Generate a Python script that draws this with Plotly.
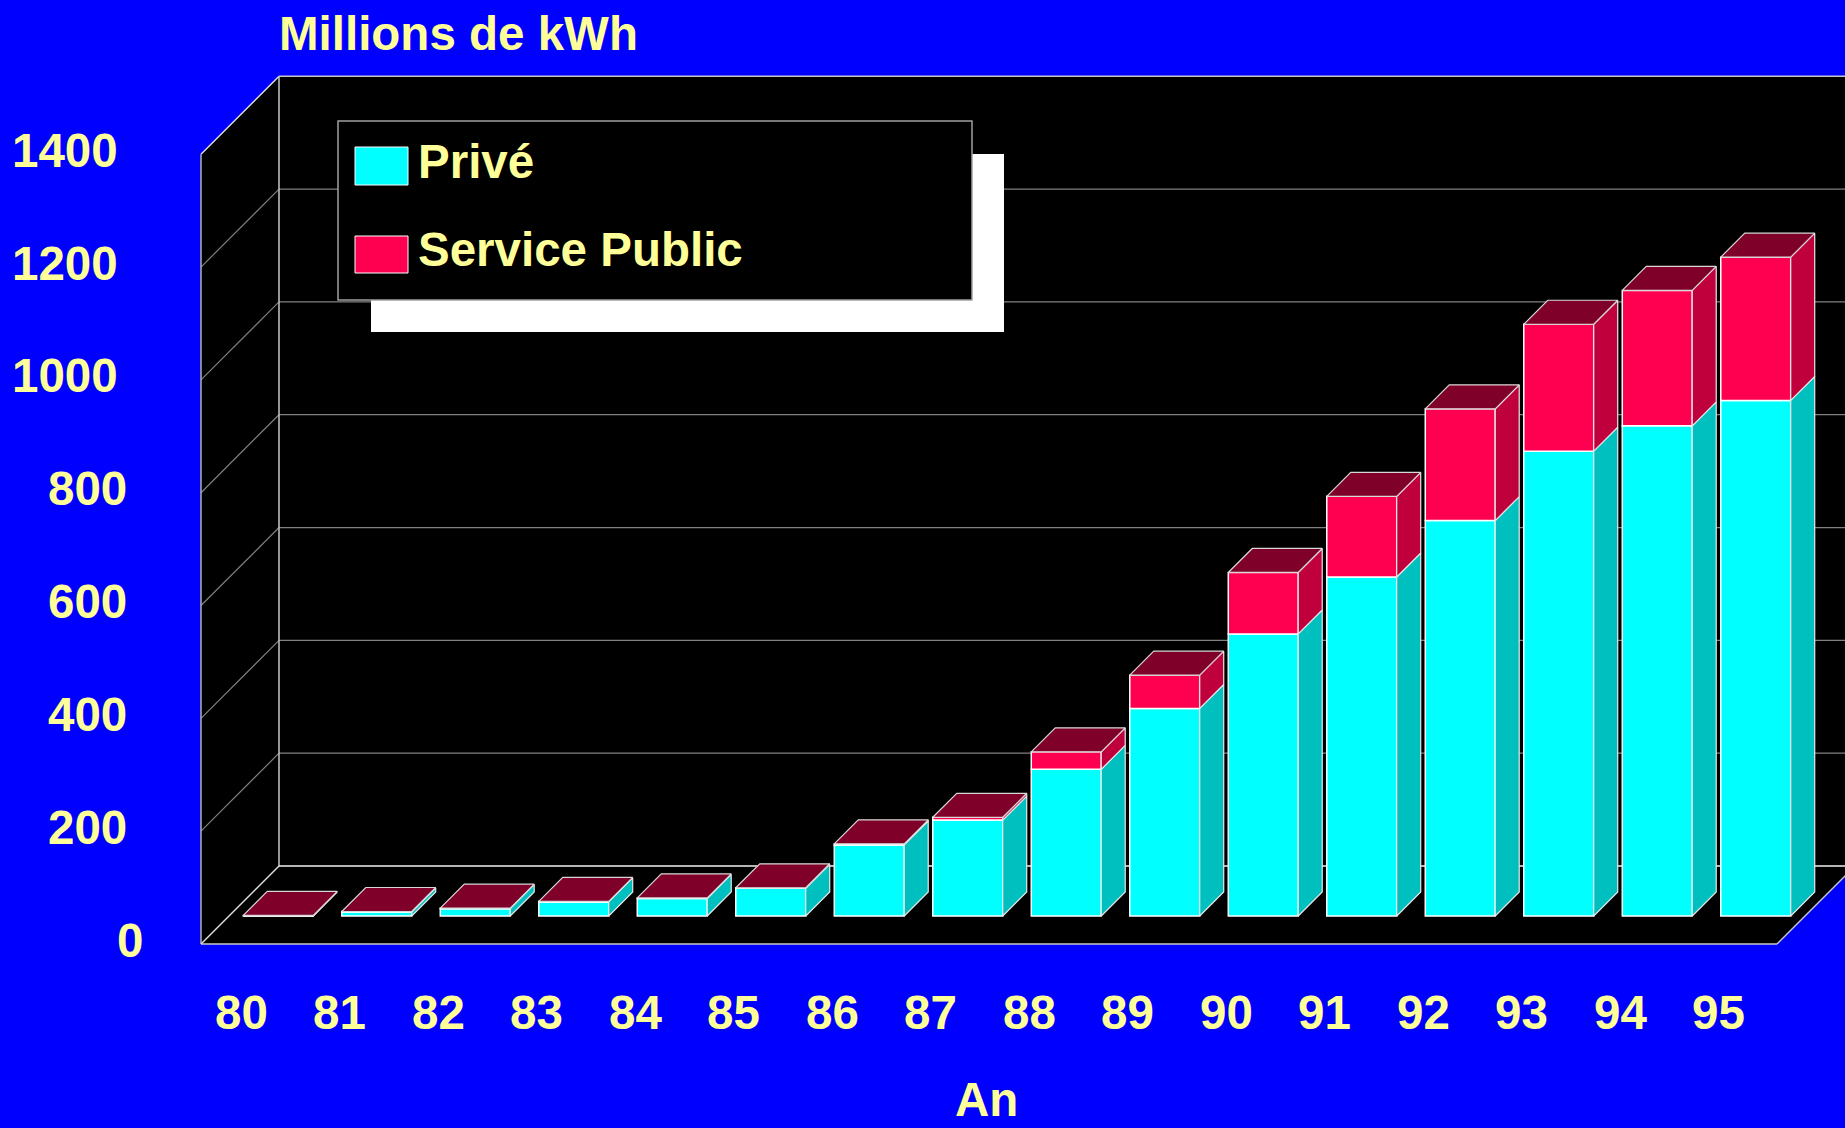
import plotly.graph_objects as go

# ---------------- data ----------------
years = ['80', '81', '82', '83', '84', '85', '86', '87',
         '88', '89', '90', '91', '92', '93', '94', '95']
prive = [0, 7, 13, 25, 31, 49, 126, 170, 260, 368, 500, 601, 701, 824, 869, 914]
service_public = [1, 1, 1, 1, 1, 1, 2, 5, 31, 59, 109, 143, 198, 225, 240, 254]
y_ticks = [0, 200, 400, 600, 800, 1000, 1200, 1400]
series_names = ['Privé', 'Service Public']
title_text = 'Millions de kWh'
x_title = 'An'

# ---------------- layout constants ----------------
W, H = 1845, 1128
PX0, SLOT = 201.0, 98.5        # pixel of x=0 on front plane, pixels per category
PY0, PPU = 944.0, 0.5641       # pixel of value 0 on front plane, pixels per unit
DEPTH = 78.0                   # depth of the 3D box in pixels (45 deg)
DX, DY = DEPTH / SLOT, DEPTH / PPU
ZF, ZB = 28.0 / 78.0, 52.0 / 78.0   # bar front / back depth fraction
BW = 0.71
NCAT = len(years)
VMAX = y_ticks[-1]

CYAN, CYAN_SIDE = '#00FFFF', '#00BFBF'
RED, RED_SIDE, RED_TOP = '#FF0050', '#BF003C', '#7F0028'
TXT = '#FFFF99'
FONT = 'Liberation Sans, Arial, sans-serif'
FS = 47.5


def px2x(px):
    return (px - PX0) / SLOT


def py2y(py):
    return (PY0 - py) / PPU


def pxp(px):
    return px / W


def pyp(py):
    return 1 - py / H


def path(pts, close=True):
    s = 'M ' + ' L '.join(f'{x:.5f},{y:.5f}' for x, y in pts)
    return s + (' Z' if close else '')


shapes = []
# walls and floor (below traces)
for pts in [
    [(0, 0), (DX, DY), (DX, VMAX + DY), (0, VMAX)],
    [(DX, DY), (NCAT + DX, DY), (NCAT + DX, VMAX + DY), (DX, VMAX + DY)],
    [(0, 0), (NCAT, 0), (NCAT + DX, DY), (DX, DY)],
]:
    shapes.append(dict(type='path', xref='x', yref='y', path=path(pts),
                       fillcolor='black', line=dict(width=0), layer='below'))
# gridlines
for v in y_ticks[1:-1]:
    shapes.append(dict(type='line', xref='x', yref='y', x0=DX, y0=v + DY,
                       x1=NCAT + DX, y1=v + DY, line=dict(color='#808080', width=1.2),
                       layer='below'))
    shapes.append(dict(type='line', xref='x', yref='y', x0=0, y0=v, x1=DX, y1=v + DY,
                       line=dict(color='#808080', width=1.2), layer='below'))
# box edges
edges = [
    ((0, VMAX), (DX, VMAX + DY), '#E0E0E0'),
    ((DX, VMAX + DY), (NCAT + DX, VMAX + DY), '#C8C8C8'),
    ((0, 0), (0, VMAX), '#B0B0B0'),
    ((DX, DY), (DX, VMAX + DY), '#C8C8C8'),
    ((0, 0), (DX, DY), '#E0E0E0'),
    ((DX, DY), (NCAT + DX, DY), '#F0F0F0'),
    ((0, 0), (NCAT, 0), '#C8C8C8'),
    ((NCAT, 0), (NCAT + DX, DY), '#C8C8C8'),
]
for (a, b, c) in edges:
    shapes.append(dict(type='line', xref='x', yref='y', x0=a[0], y0=a[1], x1=b[0], y1=b[1],
                       line=dict(color=c, width=1.5), layer='below'))

# ---------------- bars ----------------
ox, oy = ZF * DX, ZF * DY
dxb, dyb = (ZB - ZF) * DX, (ZB - ZF) * DY
centers = [i + 0.5 + ox for i in range(NCAT)]
base_p = [oy for _ in prive]
base_s = [oy + p for p in prive]
tops = [oy + p + s for p, s in zip(prive, service_public)]

fig = go.Figure()
fig.add_trace(go.Bar(x=centers, y=prive, base=base_p, width=BW, name=series_names[0],
                     marker=dict(color=CYAN, line=dict(color='white', width=1.5))))
fig.add_trace(go.Bar(x=centers, y=service_public, base=base_s, width=BW, name=series_names[1],
                     marker=dict(color=RED, line=dict(color='white', width=1.5))))


def side_face(bottoms, heights):
    xs, ys = [], []
    for c, b, h in zip(centers, bottoms, heights):
        r = c + BW / 2
        xs += [r, r + dxb, r + dxb, r, r, None]
        ys += [b, b + dyb, b + h + dyb, b + h, b, None]
    return xs, ys


xs, ys = side_face(base_p, prive)
fig.add_trace(go.Scatter(x=xs, y=ys, mode='lines', fill='toself', fillcolor=CYAN_SIDE,
                         line=dict(color='#E8E8E8', width=1.2), hoverinfo='skip'))
xs, ys = side_face(base_s, service_public)
fig.add_trace(go.Scatter(x=xs, y=ys, mode='lines', fill='toself', fillcolor=RED_SIDE,
                         line=dict(color='#E8E8E8', width=1.2), hoverinfo='skip'))
xs, ys = [], []
for c, t in zip(centers, tops):
    l, r = c - BW / 2, c + BW / 2
    xs += [l, r, r + dxb, l + dxb, l, None]
    ys += [t, t, t + dyb, t + dyb, t, None]
fig.add_trace(go.Scatter(x=xs, y=ys, mode='lines', fill='toself', fillcolor=RED_TOP,
                         line=dict(color='#D8D8D8', width=1.2), hoverinfo='skip'))

# ---------------- legend (drawn) ----------------
shapes += [
    dict(type='rect', xref='paper', yref='paper', x0=pxp(371), y0=pyp(154), x1=pxp(1004), y1=pyp(332),
         fillcolor='white', line=dict(width=0), layer='above'),
    dict(type='rect', xref='paper', yref='paper', x0=pxp(338), y0=pyp(121), x1=pxp(972), y1=pyp(300),
         fillcolor='black', line=dict(color='#A0A0A0', width=1.5), layer='above'),
    dict(type='rect', xref='paper', yref='paper', x0=pxp(355), y0=pyp(147), x1=pxp(408), y1=pyp(185),
         fillcolor=CYAN, line=dict(color='white', width=1), layer='above'),
    dict(type='rect', xref='paper', yref='paper', x0=pxp(355), y0=pyp(236), x1=pxp(408), y1=pyp(273),
         fillcolor=RED, line=dict(color='white', width=1), layer='above'),
]

ann = []
for name, cy in zip(series_names, [162, 250]):
    ann.append(dict(text=f'<b>{name}</b>', xref='paper', yref='paper', x=pxp(416), y=pyp(cy),
                    xanchor='left', yanchor='middle', showarrow=False,
                    font=dict(family=FONT, size=FS, color=TXT)))

# y tick labels
for v in y_ticks:
    s = str(v)
    ann.append(dict(text=f'<b>{s}</b>', xref='paper', yref='y', x=pxp(153.5 - 8.3 * len(s)), y=v,
                    yshift=4, xanchor='right', yanchor='middle', showarrow=False,
                    font=dict(family=FONT, size=FS, color=TXT)))
# x tick labels
for i, lab in enumerate(years):
    ann.append(dict(text=f'<b>{lab}</b>', xref='x', yref='paper', x=i + 0.5 - 0.09, y=pyp(1012.5),
                    xanchor='center', yanchor='middle', showarrow=False,
                    font=dict(family=FONT, size=FS, color=TXT)))
# titles
ann.append(dict(text=f'<b>{title_text}</b>', xref='paper', yref='paper', x=pxp(277), y=pyp(5),
                xanchor='left', yanchor='top', showarrow=False,
                font=dict(family=FONT, size=FS, color=TXT)))
ann.append(dict(text=f'<b>{x_title}</b>', xref='paper', yref='paper', x=pxp(986), y=pyp(1128),
                xanchor='center', yanchor='bottom', showarrow=False,
                font=dict(family=FONT, size=FS, color=TXT)))

fig.update_layout(
    width=W, height=H, autosize=False,
    margin=dict(l=0, r=0, t=0, b=0, pad=0),
    paper_bgcolor='#0000FF', plot_bgcolor='rgba(0,0,0,0)',
    barmode='overlay', showlegend=False,
    xaxis=dict(visible=False, range=[px2x(0), px2x(W)], fixedrange=True),
    yaxis=dict(visible=False, range=[py2y(H), py2y(0)], fixedrange=True),
    shapes=shapes, annotations=ann,
)

fig.write_html("out.html", config={'displayModeBar': False},
               post_script="document.body.style.margin='0';document.body.style.overflow='hidden';")
